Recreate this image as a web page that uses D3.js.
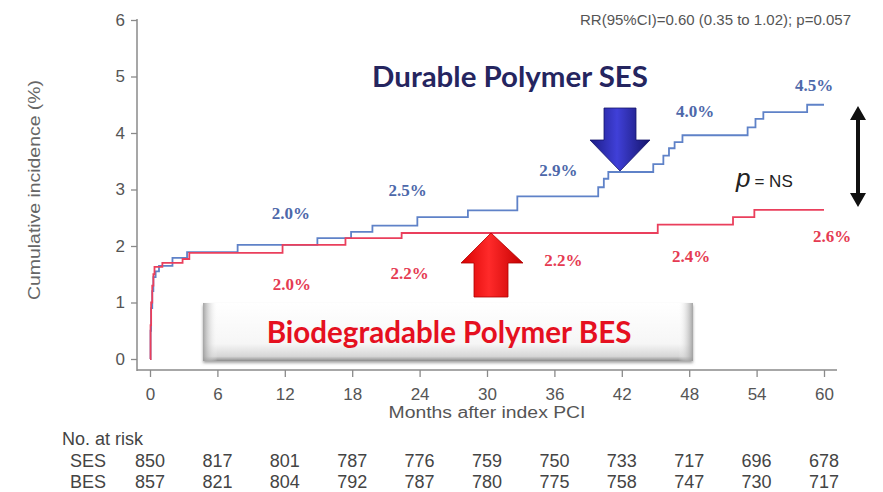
<!DOCTYPE html>
<html>
<head>
<meta charset="utf-8">
<script src="https://cdn.jsdelivr.net/npm/d3@7"></script>
<style>
  html, body { margin: 0; padding: 0; background: #fff; }
  svg { display: block; }
</style>
</head>
<body>
<svg id="chart" width="883" height="492"></svg>
<script>
// Cumulative incidence step curves (months, %)
const sesTimes  = [0, 0.05, 0.1, 0.2, 0.3, 0.5, 0.8, 2.0, 3.3, 7.8, 14.9, 17.9, 19.8, 23.8, 28.3, 32.7, 39.9, 40.4, 40.8, 44.8, 45.7, 46.2, 46.7, 47.4, 53.2, 53.9, 54.6, 58.5, 60];
const sesValues = [0, 0.5, 0.9, 1.2, 1.45, 1.55, 1.65, 1.79, 1.89, 2.02, 2.14, 2.25, 2.36, 2.51, 2.63, 2.88, 3.04, 3.19, 3.31, 3.45, 3.6, 3.73, 3.84, 3.96, 4.1, 4.25, 4.37, 4.5, 4.5];
const besTimes  = [0, 0.05, 0.1, 0.2, 0.3, 0.4, 1.1, 2.9, 3.5, 11.8, 17.4, 22.4, 45.2, 51.9, 53.8, 60];
const besValues = [0, 0.6, 1.0, 1.3, 1.5, 1.63, 1.70, 1.77, 1.88, 2.02, 2.14, 2.23, 2.38, 2.51, 2.64, 2.64];

// Months at which the cumulative rate is annotated
const labelMonths = [12, 24, 36, 48, 60];

// Numbers at risk
const riskMonths = [0, 6, 12, 18, 24, 30, 36, 42, 48, 54, 60];
const sesAtRisk  = [850, 817, 801, 787, 776, 759, 750, 733, 717, 696, 678];
const besAtRisk  = [857, 821, 804, 792, 787, 780, 775, 758, 747, 730, 717];

// Axis ticks
const xTicks = [0, 6, 12, 18, 24, 30, 36, 42, 48, 54, 60];
const yTicks = [0, 1, 2, 3, 4, 5, 6];

const svg = d3.select("#chart");
const x = d3.scaleLinear().domain([0, 60]).range([150, 824]);
const y = d3.scaleLinear().domain([0, 6]).range([359, 20]);

const sans = "'Liberation Sans', Arial, sans-serif";
const axisGrey = "#8a8a8a";
const textGrey = "#555";
const sesLine = "#5f82c8", besLine = "#ea3f5c";
const sesText = "#4d68aa", besText = "#e53b52";

const defs = svg.append("defs");

// gradients for the arrows and the caption box
const gBlue = defs.append("linearGradient").attr("id", "gBlue").attr("x1", 0).attr("x2", 1).attr("y1", 0).attr("y2", 0);
gBlue.append("stop").attr("offset", "0%").attr("stop-color", "#1c1c86");
gBlue.append("stop").attr("offset", "45%").attr("stop-color", "#4040d8");
gBlue.append("stop").attr("offset", "100%").attr("stop-color", "#14146a");
const gRed = defs.append("linearGradient").attr("id", "gRed").attr("x1", 0).attr("x2", 1).attr("y1", 0).attr("y2", 0);
gRed.append("stop").attr("offset", "0%").attr("stop-color", "#d80000");
gRed.append("stop").attr("offset", "45%").attr("stop-color", "#ff2a2a");
gRed.append("stop").attr("offset", "100%").attr("stop-color", "#c40000");
const gBox = defs.append("linearGradient").attr("id", "gBox").attr("x1", 0).attr("x2", 0).attr("y1", 0).attr("y2", 1);
gBox.append("stop").attr("offset", "0%").attr("stop-color", "#ffffff");
gBox.append("stop").attr("offset", "70%").attr("stop-color", "#f6f6f6");
gBox.append("stop").attr("offset", "92%").attr("stop-color", "#d6d6d6");
gBox.append("stop").attr("offset", "100%").attr("stop-color", "#8c8c8c");
const gEdge = defs.append("linearGradient").attr("id", "gEdge").attr("x1", 0).attr("x2", 1).attr("y1", 0).attr("y2", 0);
gEdge.append("stop").attr("offset", "0%").attr("stop-color", "#9a9a9a").attr("stop-opacity", 0.9);
gEdge.append("stop").attr("offset", "3%").attr("stop-color", "#ffffff").attr("stop-opacity", 0);
gEdge.append("stop").attr("offset", "97%").attr("stop-color", "#ffffff").attr("stop-opacity", 0);
gEdge.append("stop").attr("offset", "100%").attr("stop-color", "#9a9a9a").attr("stop-opacity", 0.9);
const shadow = defs.append("filter").attr("id", "shadow").attr("x", "-5%").attr("y", "-20%").attr("width", "110%").attr("height", "150%");
shadow.append("feDropShadow").attr("dx", 0).attr("dy", 2).attr("stdDeviation", 1.5).attr("flood-color", "#666").attr("flood-opacity", 0.6);

// ---- axes ----
const yAxis = svg.append("g").attr("transform", "translate(137,0)")
  .call(d3.axisLeft(y).tickValues(yTicks).tickFormat(d3.format("d")).tickSize(6).tickPadding(6));
yAxis.select(".domain").remove();
yAxis.append("line").attr("x1", 0).attr("x2", 0).attr("y1", y(6) - 1).attr("y2", 371).attr("stroke", axisGrey).attr("stroke-width", 1.5);

const xAxis = svg.append("g").attr("transform", "translate(0,370)")
  .call(d3.axisBottom(x).tickValues(xTicks).tickFormat(d3.format("d")).tickSize(7).tickPadding(11));
xAxis.select(".domain").remove();
xAxis.append("line").attr("x1", 137).attr("x2", 837).attr("y1", 0).attr("y2", 0).attr("stroke", axisGrey).attr("stroke-width", 1.5);

[yAxis, xAxis].forEach(a => {
  a.selectAll(".tick line").attr("stroke", axisGrey).attr("stroke-width", 1.3);
  a.selectAll(".tick text").attr("fill", textGrey).attr("font-family", sans).attr("font-size", 17);
});

svg.append("text").attr("x", x(30)).attr("y", 418).attr("text-anchor", "middle")
  .attr("font-family", sans).attr("font-size", 16).attr("fill", textGrey)
  .attr("textLength", 197).attr("lengthAdjust", "spacingAndGlyphs")
  .text("Months after index PCI");

svg.append("text").attr("transform", "translate(40,190) rotate(-90)").attr("text-anchor", "middle")
  .attr("font-family", sans).attr("font-size", 16).attr("fill", "#666")
  .attr("textLength", 220).attr("lengthAdjust", "spacingAndGlyphs")
  .text("Cumulative incidence (%)");

svg.append("text").attr("x", 851).attr("y", 25).attr("text-anchor", "end")
  .attr("font-family", sans).attr("font-size", 15).attr("fill", textGrey)
  .text("RR(95%CI)=0.60 (0.35 to 1.02); p=0.057");

// ---- caption box ----
svg.append("rect").attr("x", 203).attr("y", 303).attr("width", 490).attr("height", 58)
  .attr("fill", "url(#gBox)").attr("filter", "url(#shadow)");
svg.append("rect").attr("x", 203).attr("y", 303).attr("width", 490).attr("height", 58)
  .attr("fill", "url(#gEdge)");

// ---- step curves ----
const sesData = sesTimes.map((t, i) => ({ t, v: sesValues[i] }));
const besData = besTimes.map((t, i) => ({ t, v: besValues[i] }));
const line = d3.line().x(d => x(d.t)).y(d => y(d.v)).curve(d3.curveStepAfter);

svg.append("path").datum(sesData).attr("d", line)
  .attr("fill", "none").attr("stroke", sesLine).attr("stroke-width", 1.8);
svg.append("path").datum(besData).attr("d", line)
  .attr("fill", "none").attr("stroke", besLine).attr("stroke-width", 1.8);

// value of a step curve at a given month
function valueAt(data, m) {
  let v = 0;
  data.forEach(d => { if (d.t <= m) v = d.v; });
  return v;
}

// rate annotations, placed near the curve point they describe
const sesLabelPos = [[6, 219], [-12, 196], [4, 176], [6, 117], [-10, 91]];
const besLabelPos = [[7, 290], [-10, 279], [9, 266], [2, 262], [8, 242]];
const serif = "'Liberation Serif', 'Times New Roman', serif";
labelMonths.forEach((m, i) => {
  svg.append("text").attr("x", x(m) + sesLabelPos[i][0]).attr("y", sesLabelPos[i][1])
    .attr("text-anchor", "middle").attr("font-family", serif).attr("font-weight", "bold")
    .attr("font-size", 17).attr("fill", sesText)
    .text(valueAt(sesData, m).toFixed(1) + "%");
  svg.append("text").attr("x", x(m) + besLabelPos[i][0]).attr("y", besLabelPos[i][1])
    .attr("text-anchor", "middle").attr("font-family", serif).attr("font-weight", "bold")
    .attr("font-size", 17).attr("fill", besText)
    .text(valueAt(besData, m).toFixed(1) + "%");
});

// ---- block arrows ----
// downward arrow pointing at SES curve
svg.append("path")
  .attr("d", "M604,108 L636,108 L636,140 L650,140 L620,171 L590,140 L604,140 Z")
  .attr("fill", "url(#gBlue)").attr("stroke", "#14146a").attr("stroke-width", 0.8);
// upward arrow pointing at BES curve
svg.append("path")
  .attr("d", "M491,233 L523,263 L508,263 L508,297 L474,297 L474,263 L461,263 Z")
  .attr("fill", "url(#gRed)").attr("stroke", "#b00000").attr("stroke-width", 0.8);

// double-headed arrow between final rates
svg.append("path")
  .attr("d", "M858,106 L866,120 L860,120 L860,193 L866,193 L858,207 L850,193 L856,193 L856,120 L850,120 Z")
  .attr("fill", "#111");

// p = NS
const pText = svg.append("text").attr("x", 736).attr("y", 187).attr("font-family", sans).attr("fill", "#222");
pText.append("tspan").attr("font-style", "italic").attr("font-size", 26).text("p");
pText.append("tspan").attr("font-size", 17).attr("dx", 4).text("= NS");

// ---- group titles ----
function fitWidth(sel, w) {
  const cur = sel.node().getComputedTextLength();
  const fs = parseFloat(sel.attr("font-size"));
  sel.attr("font-size", fs * w / cur);
}
const lato = "Lato, 'Open Sans', sans-serif";
const t1 = svg.append("text").attr("x", 510).attr("y", 87).attr("text-anchor", "middle")
  .attr("font-family", lato).attr("font-weight", "bold").attr("font-size", 24)
  .attr("fill", "#25255f").text("Durable Polymer SES");
fitWidth(t1, 276);
const t2 = svg.append("text").attr("x", 449).attr("y", 343).attr("text-anchor", "middle")
  .attr("font-family", lato).attr("font-weight", "bold").attr("font-size", 24)
  .attr("fill", "#e5101f").text("Biodegradable Polymer BES");
fitWidth(t2, 365);

// ---- numbers at risk ----
const riskFont = 18;
svg.append("text").attr("x", 62).attr("y", 445).attr("font-family", sans).attr("font-size", riskFont)
  .attr("fill", "#444").text("No. at risk");
[["SES", sesAtRisk, 467], ["BES", besAtRisk, 488]].forEach(([name, vals, yy]) => {
  svg.append("text").attr("x", 70).attr("y", yy).attr("font-family", sans).attr("font-size", riskFont)
    .attr("fill", "#444").text(name);
  svg.append("g").selectAll("text").data(vals).join("text")
    .attr("x", (d, i) => x(riskMonths[i])).attr("y", yy).attr("text-anchor", "middle")
    .attr("font-family", sans).attr("font-size", riskFont).attr("fill", "#444")
    .text(d => d);
});
</script>
</body>
</html>
